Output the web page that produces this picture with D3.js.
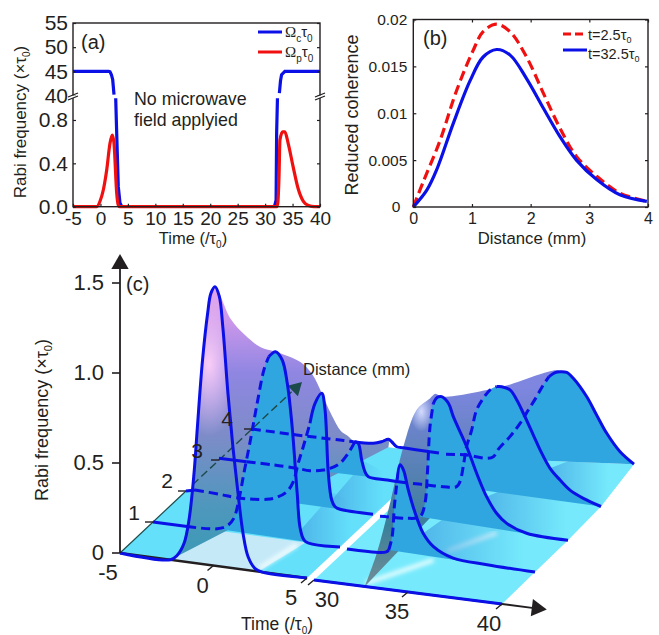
<!DOCTYPE html>
<html>
<head>
<meta charset="utf-8">
<script src="https://cdn.jsdelivr.net/npm/d3@7"></script>
<style>
  html, body { margin: 0; padding: 0; background: #fff; }
  svg { display: block; }
  text { font-family: "Liberation Sans", Arial, sans-serif; fill: #231f20; }
  .domain { display: none; }
  .tick line { stroke: #231f20; stroke-width: 1.2; }
</style>
</head>
<body>
<script>
// Panel (a): pulse shapes, time in tau0
const timeTicksA = [-5, 0, 5, 10, 15, 20, 25, 30, 35, 40];
const upperTicksA = [40, 45, 50, 55];
const lowerTicksA = [0, 0.4, 0.8];
const couplingUpperLeft = [[-5, 45], [1.5, 45], [1.74, 44.9], [2.0, 44.3], [2.23, 43.3], [2.47, 40.2]];
const couplingUpperRight = [[32.6, 40.5], [32.8, 43], [33.0, 44.3], [33.6, 45], [40, 45]];
const couplingLowerLeft = [[2.78, 1], [2.96, 0.68], [3.25, 0.185], [3.56, 0.034], [3.9, 0]];
const couplingLowerRight = [[31.7, 0], [32.0, 0.06], [32.1, 0.68], [32.25, 1]];
const probe = [[-5, 0], [-0.68, 0], [-0.08, 0.05], [0.52, 0.154], [1.14, 0.338], [1.74, 0.585], [2.16, 0.66],
  [2.47, 0.585], [2.96, 0.126], [3.25, 0.015], [3.5, 0], [32.1, 0], [32.3, 0.03], [32.55, 0.31], [32.7, 0.615],
  [33.2, 0.69], [33.6, 0.69], [34.2, 0.585], [35.1, 0.37], [36, 0.17], [37, 0.046], [37.9, 0.01], [39, 0], [40, 0]];

// Panel (b): coherence against distance
const distanceTicksB = [0, 1, 2, 3, 4];
const coherenceTicks = [0, 0.005, 0.01, 0.015, 0.02];
const coherenceEarly = [[0, 0], [0.17, 0.0027], [0.45, 0.007], [0.74, 0.01246], [1.02, 0.0167], [1.19, 0.0187],
  [1.42, 0.0195], [1.65, 0.0187], [1.93, 0.016], [2.22, 0.0121], [2.5, 0.0084], [2.78, 0.0054], [3.13, 0.00326],
  [3.52, 0.00149], [3.98, 0.0006]];
const coherenceLate = [[0, 0], [0.23, 0.0018], [0.4, 0.004], [0.68, 0.0089], [0.97, 0.0135], [1.19, 0.016],
  [1.42, 0.0168], [1.65, 0.0162], [1.93, 0.0137], [2.22, 0.0105], [2.5, 0.0075], [2.78, 0.005], [3.13, 0.0029],
  [3.52, 0.0013], [3.98, 0.0006]];

// Panel (c): probe profile [time, rabi] at each distance in mm
const timeTicksC = [-5, 0, 5, 30, 35, 40];
const rabiTicksC = [0, 0.5, 1.0, 1.5];
const distanceTicksC = [1, 2, 3, 4];
const wave0 = [[-5, 0], [-2.3, 0], [-1.94, 0.03], [-1.58, 0.1], [-1.31, 0.235], [-1.04, 0.5], [-0.86, 0.76],
  [-0.59, 1.13], [-0.31, 1.4], [-0.14, 1.51], [0.08, 1.55], [0.31, 1.5], [0.5, 1.33], [0.77, 0.97], [1.04, 0.67],
  [1.31, 0.42], [1.58, 0.2], [1.85, 0.074], [2.21, 0.015], [2.57, 0], [5, 0], [30, 0], [40, 0]];
const wave1 = [[-5, 0], [-3.17, 0], [-1.57, 0.01], [-1.03, 0.034], [-0.68, 0.08], [-0.41, 0.186], [-0.14, 0.338],
  [0.21, 0.528], [0.57, 0.737], [0.93, 0.927], [1.19, 1.004], [1.55, 1.037], [1.91, 0.996], [2.18, 0.87],
  [2.44, 0.633], [2.71, 0.267], [2.89, 0.065], [3.16, 0.004], [5, 0], [30, 0], [32.05, 0.01], [32.22, 0.024],
  [32.4, 0.1], [32.52, 0.27], [32.67, 0.42], [32.82, 0.505], [33, 0.48], [33.26, 0.372], [33.6, 0.256],
  [34.05, 0.142], [34.6, 0.075], [35.65, 0.025], [37.45, 0.012], [40, 0.005]];
const wave2 = [[-5, 0], [-4.52, 0.012], [-3.18, 0.007], [-2.29, 0], [-0.68, 0.014], [-0.15, 0.032], [0.39, 0.071],
  [0.74, 0.132], [1, 0.237], [1.27, 0.333], [1.63, 0.468], [1.9, 0.583], [2.26, 0.644], [2.43, 0.56], [2.61, 0.204],
  [2.79, 0.058], [2.97, 0.023], [3.24, 0.013], [5, 0.01], [30, 0.01], [30.35, 0.012], [31.42, 0.017], [32.13, 0.036],
  [32.39, 0.113], [32.52, 0.282], [32.66, 0.543], [32.84, 0.675], [33.05, 0.711], [33.28, 0.718], [33.64, 0.686],
  [33.9, 0.615], [34.61, 0.458], [35.14, 0.317], [35.67, 0.194], [36.2, 0.109], [36.74, 0.06], [37.8, 0.019], [40, 0.01]];
const wave3 = [[-5, 0.01], [-3.52, 0.011], [-2.1, 0.013], [-0.85, 0.012], [-0.13, 0.008], [0.58, 0.022], [0.94, 0.036],
  [1.47, 0.072], [1.91, 0.133], [2.27, 0.203], [2.45, 0.196], [2.63, 0.106], [2.81, 0.043], [2.99, 0.018], [4, 0.014],
  [5, 0.012], [30, 0.02], [30.73, 0.021], [31.61, 0.023], [32.32, 0.033], [32.5, 0.063], [32.67, 0.148], [32.85, 0.262],
  [33.12, 0.358], [33.38, 0.473], [33.74, 0.543], [34.09, 0.593], [34.45, 0.617], [34.72, 0.62], [35.16, 0.608],
  [35.52, 0.557], [35.87, 0.488], [36.4, 0.374], [36.76, 0.296], [37.29, 0.201], [37.82, 0.143], [38.35, 0.094],
  [39.06, 0.058], [40, 0.025]];
const wave4 = [[-5, 0], [-2.61, 0], [-0.29, 0.004], [0.42, 0.005], [1.49, 0.011], [1.94, 0.026], [2.29, 0.044],
  [2.47, 0.033], [2.74, 0.009], [3.09, 0.008], [4.52, 0.006], [5, 0.005], [30, 0.01], [31.1, 0.02], [32.17, 0.016],
  [32.52, 0.03], [32.82, 0.08], [33.4, 0.153], [33.94, 0.234], [34.38, 0.314], [34.82, 0.394], [35.17, 0.463],
  [35.48, 0.514], [35.8, 0.54], [36.06, 0.549], [36.42, 0.55], [36.77, 0.522], [37.48, 0.43], [38.01, 0.335],
  [38.55, 0.24], [39.26, 0.147], [40, 0.088]];
const waves = [wave0, wave1, wave2, wave3, wave4];

// Time spans where each profile is hidden behind the surface and drawn dashed
const hiddenSpans = [
  [],
  [[-3.17, 1.19], [32.22, 32.67]],
  [[-4.52, 1.63], [30, 32.84]],
  [[-3.52, 2.27], [30, 34.45]],
  [[-5, 0.42], [4.52, 5], [30, 35.48]]
];
// Time spans that close into a filled lobe, per distance
const lobeSpans = [
  [],
  [[-1.57, 3.16], [32.22, 40]],
  [[-0.68, 3.24], [32.13, 40]],
  [[-0.85, 2.99], [32.32, 40]],
  [[32.17, 40]]
];
// Shaded floor strips in front of a lobe: [distance, first time of the tail in front, last time]
const floorShades = [[4, 37.29, 40], [3, 35.67, 40], [2, 34.05, 40], [3, 2.79, 5], [2, 2.89, 5]];
// Ridge lines of the surface as [time, distance, rabi]
const ridgeLeft = [[0.08, 0, 1.55], [0.5, 0.25, 1.33], [0.8, 0.5, 1.205], [1.2, 0.75, 1.1], [1.55, 1, 1.037], [2, 1.5, 0.9],
  [2.2, 1.75, 0.79], [2.26, 2, 0.644], [2.3, 2.25, 0.49], [2.4, 2.5, 0.35], [2.3, 2.75, 0.28], [2.27, 3, 0.203],
  [2.3, 3.5, 0.11], [2.29, 4, 0.044], [2.29, 4, 0]];
const ridgeRight = [[32.7, 0, 0], [32.46, 0.5, 0.095], [32.29, 1, 0.285], [32.12, 1.5, 0.51], [31.95, 2, 0.626],
  [32.22, 2.25, 0.651], [32.6, 2.2, 0.69], [33.28, 2, 0.718], [34.72, 3, 0.62], [36.06, 4, 0.55], [32.17, 4, 0.016]];
// Floor outlines and the pale patch under the first peak, as [time, distance, rabi]
const floorLeft = [[-5, 0, 0], [5, 0, 0], [5, 4, 0], [0, 4, 0], [-5, 2, 0]];
const floorRight = [[30, 0, 0], [40, 0, 0], [40, 1, 0.005], [40, 2, 0.01], [40, 3, 0.025], [40, 4, 0.088], [32.17, 4, 0.016], [30, 4, 0]];
const palePatch = [[-2.3, 0, 0], [2.4, 0, 0], [3.16, 1, 0], [-1.6, 1, 0]];
const glints = [[[2.3, 0.1], [2.88, 0.9]], [[32.6, 0.1], [34.6, 1]], [[34.78, 1.3], [36.2, 2]]];

const blue = "#0a10e6";
const red = "#f01010";
const ink = "#231f20";

const svg = d3.select("body").append("svg").attr("width", 659).attr("height", 635);
const defs = svg.append("defs");

// Small helper for text with a subscript
function subText(sel, parts) {
  parts.forEach((p) => {
    const t = sel.append("tspan").text(p.t);
    if (p.font) t.style("font-family", p.font);
    if (p.sub) t.attr("dy", p.sub).style("font-size", p.size);
    if (p.back) t.attr("dy", p.back);
  });
}

// ---------- Panel (a) ----------
const xA = d3.scaleLinear().domain([-5, 40]).range([73, 320]);
const yUpper = d3.scaleLinear().domain([40, 55]).range([95.5, 23]);
const yLower = d3.scaleLinear().domain([0, 1]).range([206.7, 98.3]);
const a = svg.append("g");

const lineUpper = d3.line().x((d) => xA(d[0])).y((d) => yUpper(d[1]));
const lineLower = d3.line().x((d) => xA(d[0])).y((d) => yLower(d[1]));

[couplingUpperLeft, couplingUpperRight].forEach((s) => {
  a.append("path").attr("d", lineUpper(s)).attr("fill", "none").attr("stroke", blue).attr("stroke-width", 3.2);
});
[couplingLowerLeft, couplingLowerRight].forEach((s) => {
  a.append("path").attr("d", lineLower(s)).attr("fill", "none").attr("stroke", blue).attr("stroke-width", 3.2);
});
a.append("path").attr("d", lineLower.curve(d3.curveMonotoneX)(probe)).attr("fill", "none").attr("stroke", red).attr("stroke-width", 3.2);

a.append("rect").attr("x", 73).attr("y", 23).attr("width", 247).attr("height", 183.7)
  .attr("fill", "none").attr("stroke", ink).attr("stroke-width", 1.4);

const axisA = a.append("g").attr("transform", "translate(0,206.7)")
  .call(d3.axisBottom(xA).tickValues(timeTicksA).tickFormat((d) => String(d)).tickSize(-3).tickPadding(5));
axisA.selectAll("text").style("font-size", "19px");
[d3.axisLeft(yUpper).tickValues(upperTicksA), d3.axisLeft(yLower).tickValues(lowerTicksA).tickFormat(d3.format(".1f"))].forEach((ax) => {
  const g = a.append("g").attr("transform", "translate(73,0)").call(ax.tickSize(-3).tickPadding(5));
  g.selectAll("text").style("font-size", "21px");
});
[d3.axisRight(yUpper).tickValues(upperTicksA), d3.axisRight(yLower).tickValues(lowerTicksA)].forEach((ax) => {
  a.append("g").attr("transform", "translate(320,0)").call(ax.tickSize(-3).tickFormat(""));
});

// Axis break marks on both sides
[73, 320].forEach((x) => {
  a.append("rect").attr("x", x - 3).attr("y", 95.5).attr("width", 6).attr("height", 2.5).attr("fill", "#fff");
  [0, 3].forEach((o) => {
    a.append("line").attr("x1", x - 5).attr("x2", x + 5).attr("y1", 98.5 + o - 1.5).attr("y2", 94.5 + o - 1.5)
      .attr("stroke", ink).attr("stroke-width", 1.2);
  });
});

a.append("text").attr("x", 81).attr("y", 49).style("font-size", "20px").text("(a)");
a.append("text").attr("x", 134).attr("y", 105).style("font-size", "17.8px").text("No microwave");
a.append("text").attr("x", 134).attr("y", 126).style("font-size", "17.8px").text("field applyied");

a.append("text").attr("x", 193).attr("y", 244).attr("text-anchor", "middle").style("font-size", "16.5px")
  .call(subText, [{ t: "Time (/τ" }, { t: "0", sub: "4", size: "10px" }, { t: ")", back: "-4" }]);
a.append("text").attr("transform", "translate(26,122) rotate(-90)").attr("text-anchor", "middle").style("font-size", "17px")
  .call(subText, [{ t: "Rabi frequency (×τ" }, { t: "0", sub: "4", size: "10px" }, { t: ")", back: "-4" }]);

// Legend of (a)
[[blue, 32, "c"], [red, 52, "p"]].forEach(([col, y, s]) => {
  a.append("line").attr("x1", 258).attr("x2", 282).attr("y1", y).attr("y2", y).attr("stroke", col).attr("stroke-width", 3);
  a.append("text").attr("x", 285).attr("y", y + 5).style("font-size", "15px")
    .call(subText, [
      { t: "Ω", font: "Liberation Serif" },
      { t: s, sub: "5", size: "10px" },
      { t: "τ", back: "-5" },
      { t: "0", sub: "5", size: "10px" }
    ]);
});

// ---------- Panel (b) ----------
const xB = d3.scaleLinear().domain([0, 4]).range([413.3, 648]);
const yB = d3.scaleLinear().domain([0, 0.02]).range([207, 19.5]);
const b = svg.append("g");
const lineB = d3.line().x((d) => xB(d[0])).y((d) => yB(d[1])).curve(d3.curveCatmullRom);

b.append("path").attr("d", lineB(coherenceEarly)).attr("fill", "none").attr("stroke", red)
  .attr("stroke-width", 3.2).attr("stroke-dasharray", "10,5");
b.append("path").attr("d", lineB(coherenceLate)).attr("fill", "none").attr("stroke", blue).attr("stroke-width", 3.2);
b.append("rect").attr("x", 413.3).attr("y", 19.5).attr("width", 234.7).attr("height", 187.5)
  .attr("fill", "none").attr("stroke", ink).attr("stroke-width", 1.4);

const axisBx = b.append("g").attr("transform", "translate(0,207)")
  .call(d3.axisBottom(xB).tickValues(distanceTicksB).tickFormat((d) => String(d)).tickSize(-3).tickPadding(6));
axisBx.selectAll("text").style("font-size", "16px");
const axisBy = b.append("g").attr("transform", "translate(413.3,0)")
  .call(d3.axisLeft(yB).tickValues(coherenceTicks).tickFormat((d) => String(d)).tickSize(-3).tickPadding(6));
axisBy.selectAll("text").style("font-size", "15.5px");
axisBy.selectAll("text").filter((d) => d === 0).attr("x", -13);
b.append("g").attr("transform", "translate(0,19.5)").call(d3.axisTop(xB).tickValues(distanceTicksB).tickSize(-3).tickFormat(""));
b.append("g").attr("transform", "translate(648,0)").call(d3.axisRight(yB).tickValues(coherenceTicks).tickSize(-3).tickFormat(""));

b.append("text").attr("x", 423).attr("y", 45).style("font-size", "20px").text("(b)");
b.append("text").attr("x", 532).attr("y", 244).attr("text-anchor", "middle").style("font-size", "16.7px").text("Distance (mm)");
b.append("text").attr("transform", "translate(358,115) rotate(-90)").attr("text-anchor", "middle").style("font-size", "18px").text("Reduced coherence");

[[red, 34, 40, "t=2.5τ", "8,4"], [blue, 50, 59, "t=32.5τ", null]].forEach(([col, y, ty, s, dash]) => {
  b.append("line").attr("x1", 563).attr("x2", 587).attr("y1", y).attr("y2", y).attr("stroke", col)
    .attr("stroke-width", 3).attr("stroke-dasharray", dash);
  b.append("text").attr("x", 588).attr("y", ty).style("font-size", "14.5px")
    .call(subText, [{ t: s }, { t: "0", sub: "3", size: "9px" }]);
});

// ---------- Panel (c) ----------
const c = svg.append("g");
const timeX = d3.scaleLinear().domain([-5, 5, 30, 40]).range([0, 187, 194, 382]);
const timeY = d3.scaleLinear().domain([-5, 5, 30, 40]).range([0, 25, 27, 51]);
const distX = d3.scaleLinear().domain([0, 4]).range([0, 132]);
const distY = d3.scaleLinear().domain([0, 4]).range([0, -124]);
const rabiY = d3.scaleLinear().domain([0, 1.5]).range([553, 283]);

function project(t, d, h) {
  return [120 + timeX(t) + distX(d), timeY(t) + distY(d) + rabiY(h)];
}

const smooth = d3.line().curve(d3.curveCatmullRom);
const straight = d3.line();

// Gradients for the surface and the floor
function vGrad(id, y1, y2, stops) {
  const g = defs.append("linearGradient").attr("id", id).attr("gradientUnits", "userSpaceOnUse")
    .attr("x1", 0).attr("x2", 0).attr("y1", y1).attr("y2", y2);
  stops.forEach(([o, col]) => g.append("stop").attr("offset", o).attr("stop-color", col));
}
vGrad("surfLeft", 285, 560, [[0, "#e8a8ec"], [0.14, "#c896ea"], [0.32, "#8f86e2"], [0.55, "#7d8cc8"], [0.8, "#4f97bd"], [1, "#3a9ab5"]]);
vGrad("surfRight", 385, 580, [[0, "#7f86e0"], [0.35, "#5f82bd"], [0.72, "#3a7f9a"], [1, "#6c8c96"]]);
function glow(id, col) {
  const g = defs.append("radialGradient").attr("id", id);
  g.append("stop").attr("offset", 0).attr("stop-color", col).attr("stop-opacity", 0.95);
  g.append("stop").attr("offset", 1).attr("stop-color", col).attr("stop-opacity", 0);
}
glow("pinkGlow", "#ffd0f8");
glow("paleGlow", "#d8e0ff");
const shade = defs.append("linearGradient").attr("id", "floorShade");
shade.append("stop").attr("offset", 0).attr("stop-color", "#4aaee6").attr("stop-opacity", 0.85);
shade.append("stop").attr("offset", 0.7).attr("stop-color", "#4aaee6").attr("stop-opacity", 0);
defs.append("filter").attr("id", "soft").append("feGaussianBlur").attr("stdDeviation", 2);

// Floor
c.append("path").attr("d", straight(floorLeft.map((p) => project(p[0], p[1], p[2]))) + "Z").attr("fill", "#64e0fb");
c.append("path").attr("d", straight(floorRight.map((p) => project(p[0], p[1], p[2]))) + "Z").attr("fill", "#76eafc");
c.append("path").attr("d", straight(palePatch.map((p) => project(p[0], p[1], p[2]))) + "Z").attr("fill", "#c6e9f8");

// Floor glints
glints.forEach((g) => {
  c.append("path").attr("d", straight(g.map((p) => project(p[0], p[1], 0))))
    .attr("stroke", "#f2ffff").attr("stroke-width", 4).attr("fill", "none").attr("filter", "url(#soft)");
});

// Shade on the floor just in front of each lobe
floorShades.forEach(([d, t0, t1]) => {
  const front = waves[d - 1].filter((p) => p[0] >= t0 && p[0] <= t1);
  const back = waves[d].filter((p) => p[0] === t1)[0];
  const pts = front.map((p) => project(p[0], d - 1, p[1]));
  pts.push(project(t1, d, back[1]));
  pts.push(project(t0, d, 0.1));
  c.append("path").attr("d", straight(pts) + "Z").attr("fill", "url(#floorShade)");
});

// Time axis under the floor edge
c.append("line").attr("x1", project(-5, 0, 0)[0]).attr("y1", project(-5, 0, 0)[1])
  .attr("x2", project(5, 0, 0)[0]).attr("y2", project(5, 0, 0)[1]).attr("stroke", ink).attr("stroke-width", 2.4);

// Surface behind the profiles
const leftRise = wave0.filter((p) => p[0] >= -2.3 && p[0] < 0.08).map((p) => project(p[0], 0, p[1]));
const leftOutline = leftRise.concat(ridgeLeft.map((p) => project(p[0], p[1], p[2])));
c.append("path").attr("d", smooth(leftOutline) + "Z").attr("fill", "url(#surfLeft)");
const rightOutline = ridgeRight.map((p) => project(p[0], p[1], p[2]));
c.append("path").attr("d", smooth(rightOutline) + "Z").attr("fill", "url(#surfRight)");

// Pale sheen near the top of the second ridge
defs.append("clipPath").attr("id", "ridgeClip").append("path").attr("d", smooth(rightOutline) + "Z");
c.append("ellipse").attr("cx", project(32.2, 2, 0)[0]).attr("cy", rabiY(0.62) + project(32.2, 2, 0)[1] - 553)
  .attr("rx", 12).attr("ry", 20).attr("fill", "url(#paleGlow)").attr("clip-path", "url(#ridgeClip)");

// Pink glow inside the first peak
defs.append("clipPath").attr("id", "peakClip").append("path")
  .attr("d", straight(wave0.filter((p) => p[0] >= -2.3 && p[0] <= 2.57).map((p) => project(p[0], 0, p[1]))) + "Z");
c.append("ellipse").attr("cx", project(0.08, 0, 0)[0] - 6).attr("cy", rabiY(1.05)).attr("rx", 34).attr("ry", 72)
  .attr("fill", "url(#pinkGlow)").attr("clip-path", "url(#peakClip)");

// Filled lobes, back to front
[4, 3, 2, 1].forEach((d) => {
  lobeSpans[d].forEach(([t0, t1]) => {
    const pts = waves[d].filter((p) => p[0] >= t0 && p[0] <= t1).map((p) => project(p[0], d, p[1]));
    c.append("path").attr("d", smooth(pts) + "Z").attr("fill", "#2fa6df");
  });
});

// Distance axis, solid on the floor and dashed beyond it
c.append("line").attr("x1", project(-5, 0, 0)[0]).attr("y1", project(-5, 0, 0)[1])
  .attr("x2", project(-5, 2, 0)[0]).attr("y2", project(-5, 2, 0)[1]).attr("stroke", "#1d4a4a").attr("stroke-width", 1.2);
c.append("line").attr("x1", project(-5, 2.2, 0)[0]).attr("y1", project(-5, 2.2, 0)[1])
  .attr("x2", project(-5, 5.2, 0)[0]).attr("y2", project(-5, 5.2, 0)[1]).attr("stroke", "#1d4a4a")
  .attr("stroke-width", 1.4).attr("stroke-dasharray", "8,4");
const distTip = project(-5, 5.45, 0);
c.append("path").attr("d", d3.symbol(d3.symbolTriangle, 95)())
  .attr("transform", `translate(${distTip[0] - 4},${distTip[1] + 4}) rotate(46)`).attr("fill", "#1d4a4a");

// Time axis tail and arrow
c.append("line").attr("x1", project(30, 0, 0)[0]).attr("y1", project(30, 0, 0)[1])
  .attr("x2", project(41.8, 0, 0)[0]).attr("y2", project(41.8, 0, 0)[1]).attr("stroke", ink).attr("stroke-width", 1.8);
const timeTip = project(41.8, 0, 0);
c.append("path").attr("d", d3.symbol(d3.symbolTriangle, 130)())
  .attr("transform", `translate(${timeTip[0] + 1},${timeTip[1]}) rotate(97)`).attr("fill", ink);

// Profile lines, split into solid and dashed pieces
function pieces(wave, spans) {
  const out = [];
  [wave.filter((p) => p[0] <= 5), wave.filter((p) => p[0] >= 30)].forEach((side) => {
    const cuts = spans.filter((s) => s[0] >= side[0][0] && s[1] <= side[side.length - 1][0]);
    let cursor = side[0][0];
    cuts.forEach((s) => {
      if (s[0] > cursor) out.push({ pts: side.filter((p) => p[0] >= cursor && p[0] <= s[0]), dashed: false });
      out.push({ pts: side.filter((p) => p[0] >= s[0] && p[0] <= s[1]), dashed: true });
      cursor = s[1];
    });
    if (cursor < side[side.length - 1][0]) out.push({ pts: side.filter((p) => p[0] >= cursor), dashed: false });
  });
  return out;
}
waves.forEach((wave, d) => {
  pieces(wave, hiddenSpans[d]).forEach((seg) => {
    c.append("path").attr("d", smooth(seg.pts.map((p) => project(p[0], d, p[1]))))
      .attr("fill", "none").attr("stroke", blue).attr("stroke-width", 3)
      .attr("stroke-dasharray", seg.dashed ? "9,5" : null);
  });
});

// Rabi axis
c.append("line").attr("x1", 120).attr("x2", 120).attr("y1", rabiY(0)).attr("y2", 264).attr("stroke", ink).attr("stroke-width", 1.8);
c.append("path").attr("d", d3.symbol(d3.symbolTriangle, 130)()).attr("transform", "translate(120,264)").attr("fill", ink);
rabiTicksC.forEach((h) => {
  c.append("line").attr("x1", 112).attr("x2", 120).attr("y1", rabiY(h)).attr("y2", rabiY(h)).attr("stroke", ink).attr("stroke-width", 1.6);
  c.append("text").attr("x", 104).attr("y", rabiY(h) + 7).attr("text-anchor", "end").style("font-size", "22px")
    .text(h === 0 ? "0" : d3.format(".1f")(h));
});
c.append("text").attr("transform", "translate(48,420) rotate(-90)").attr("text-anchor", "middle").style("font-size", "18px")
  .call(subText, [{ t: "Rabi frequency (×τ" }, { t: "0", sub: "4", size: "11px" }, { t: ")", back: "-4" }]);
c.append("text").attr("x", 126).attr("y", 291).style("font-size", "20px").text("(c)");

// Distance ticks
const distLabelDx = [-19, -19, -22, -25];
const distLabelDy = [-2, -3, -2, -3];
distanceTicksC.forEach((d, i) => {
  const p = project(-5, d, 0);
  c.append("line").attr("x1", p[0] - 8).attr("x2", p[0]).attr("y1", p[1]).attr("y2", p[1]).attr("stroke", ink).attr("stroke-width", 1.4);
  c.append("text").attr("x", p[0] + distLabelDx[i]).attr("y", p[1] + distLabelDy[i]).attr("text-anchor", "middle")
    .style("font-size", "21px").text(d);
});
c.append("text").attr("x", 303).attr("y", 375).style("font-size", "16.5px").text("Distance (mm)");

// Time ticks
const timeLabelDx = [-12, -11, -16, 13, -11, -13];
timeTicksC.forEach((t, i) => {
  const p = project(t, 0, 0);
  if (t !== -5) {
    c.append("line").attr("x1", p[0] - 6).attr("x2", p[0]).attr("y1", p[1] + 5).attr("y2", p[1]).attr("stroke", ink).attr("stroke-width", 1.4);
  }
  c.append("text").attr("x", p[0] + timeLabelDx[i]).attr("y", p[1] + 27).attr("text-anchor", "middle")
    .style("font-size", "22px").text(t);
});
c.append("text").attr("x", 277).attr("y", 630).attr("text-anchor", "middle").style("font-size", "17.5px")
  .call(subText, [{ t: "Time (/τ" }, { t: "0", sub: "4", size: "10px" }, { t: ")", back: "-4" }]);
</script>
</body>
</html>
